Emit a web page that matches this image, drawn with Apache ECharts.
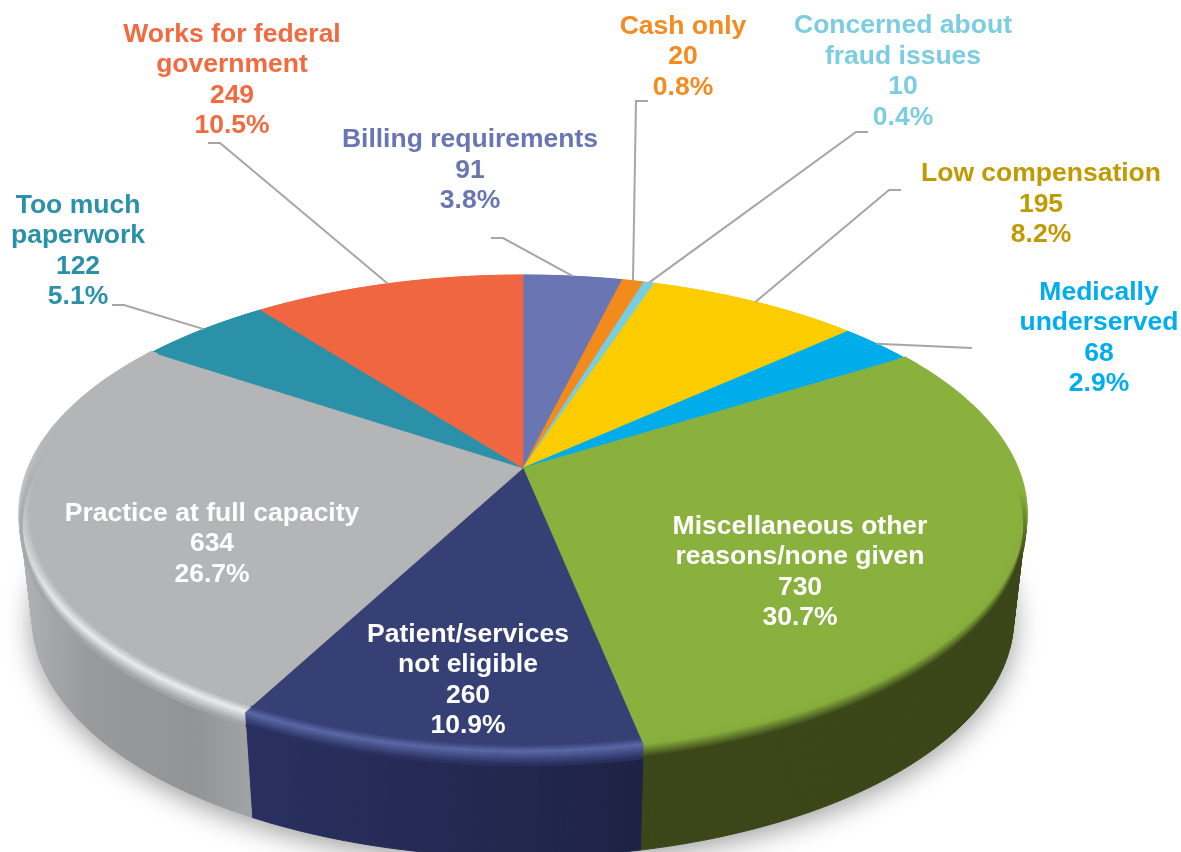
<!DOCTYPE html>
<html>
<head>
<meta charset="utf-8" />
<title>Reasons for not participating</title>
<style>
  html, body { margin: 0; padding: 0; background: #fff; }
  #chart { width: 1181px; height: 852px; }
</style>
</head>
<body>
<div id="chart"></div>
<script src="https://cdn.jsdelivr.net/npm/echarts@6/dist/echarts.min.js"></script>
<script>
// data, clockwise from 12 o'clock
const categories = [
  "Billing requirements",
  "Cash only",
  "Concerned about\nfraud issues",
  "Low compensation",
  "Medically\nunderserved",
  "Miscellaneous other\nreasons/none given",
  "Patient/services\nnot eligible",
  "Practice at full capacity",
  "Too much\npaperwork",
  "Works for federal\ngovernment",
];
const counts = [91, 20, 10, 195, 68, 730, 260, 634, 122, 249];
const percents = ["3.8%", "0.8%", "0.4%", "8.2%", "2.9%", "30.7%", "10.9%", "26.7%", "5.1%", "10.5%"];

// styling, same order as the data
const sliceColors = ["#6a75b3", "#f38b1c", "#78cde0", "#fbcd00", "#00adea", "#8ab13e", "#364075", "#b4b5b7", "#2a91a8", "#f06640"];
const labelColors = ["#6a75b3", "#f58a1e", "#7ccde2", "#c09a00", "#00adef", "#fff", "#fff", "#fff", "#2a91a8", "#f26a3f"];
// centre of the text block
const labelPos = [[470, 170.5], [683, 57], [903, 71.5], [1041, 204.5], [1099, 338], [800, 572], [468, 680], [212, 544], [78, 251], [232, 80]];
// where the leader line starts next to the text, then its elbow
const leaderEnds = [
  [[491, 238], [503, 238]],
  [[648, 101], [636, 101]],
  [[868, 132], [856, 132]],
  [[901, 190], [889, 190]],
  [[972, 348], [972, 348]],
  null, null, null,
  [[112, 305], [124, 305]],
  [[208, 143], [220, 143]],
];
// side wall shading: x range of the gradient and its stops
const wallShade = {
  5: { x: [640, 1025], stops: [[0, "#3c4719"], [1, "#3a4518"]] },
  6: { x: [250, 640], stops: [[0, "#2a3060"], [1, "#1e2345"]] },
  7: { x: [20, 255], stops: [[0, "#b0b2b5"], [0.3, "#97999b"], [0.75, "#929496"], [1, "#a2a4a6"]] },
};
// rim between top and wall: highlight colour, wall colour, y range where it fades in
const rimStyle = {
  5: { hi: "#86ad3c", wall: "#3c4719", fade: [490, 560] },
  6: { hi: "#5866a3", wall: "#2a3060", fade: [0, 1] },
  7: { hi: "#e8e9ea", wall: "#a2a4a6", fade: [430, 600] },
};

// pie top is a circle seen in perspective
const cx = 523, cy = 468, R = 494, pb = 140.5, pc = -0.1908;
const depth = 105, shrink = 0.025;
const total = counts.reduce((a, b) => a + b, 0);

function angleAt(i) {
  let sum = 0;
  for (let k = 0; k < i; k++) sum += counts[k];
  return (sum / total) * Math.PI * 2;
}
function project(theta, r, t) {
  const u = r * Math.sin(theta), v = -r * Math.cos(theta);
  const d = 1 + pc * v;
  const x = R * u / d * (1 - shrink * t);
  return [cx + x, (cy + pb * v) / d + depth * t];
}
function arc(i, r, t) {
  const a0 = angleAt(i), a1 = angleAt(i + 1);
  const n = Math.max(2, Math.ceil((a1 - a0) / 0.02));
  const pts = [];
  for (let k = 0; k <= n; k++) pts.push(project(a0 + ((a1 - a0) * k) / n, r, t));
  return pts;
}
function mix(c1, c2, f) {
  const p = (c) => [1, 3, 5].map((j) => parseInt(c.substr(j, 2), 16));
  const a = p(c1), b = p(c2);
  return "rgb(" + a.map((v, j) => Math.round(v + (b[j] - v) * f)).join(",") + ")";
}

const renderShadow = (params) => ({
  type: "polygon",
  shape: { points: arc(params.dataIndex, 1, 1).concat([project(0, 0, 1)]) },
  style: { fill: "#999", shadowBlur: 28, shadowColor: "rgba(0,0,0,0.4)", shadowOffsetY: 6 },
});

// one quad per arc step, so the outline between top and bottom edge gets filled too
const renderWall = (params) => {
  const i = params.dataIndex;
  const shade = wallShade[i];
  const paint = shade
    ? {
        type: "linear", x: shade.x[0], y: 0, x2: shade.x[1], y2: 0, global: true,
        colorStops: shade.stops.map((s) => ({ offset: s[0], color: s[1] })),
      }
    : sliceColors[i];
  const upper = arc(i, 1, 0), lower = arc(i, 1, 1);
  const children = [];
  for (let k = 0; k < upper.length - 1; k++) {
    children.push({
      type: "polygon",
      shape: { points: [upper[k], upper[k + 1], lower[k + 1], lower[k]] },
      style: { fill: paint, stroke: paint, lineWidth: 1 },
    });
  }
  return { type: "group", children };
};

const renderTop = (params) => {
  const i = params.dataIndex;
  return {
    type: "polygon",
    shape: { points: [[cx, cy]].concat(arc(i, 1, 0)) },
    style: { fill: sliceColors[i], stroke: sliceColors[i], lineWidth: 0.6 },
  };
};

// bevel: a stack of thin strokes, from inside the top edge down onto the wall
const rimSteps = [];
for (const r of [0.982, 0.985, 0.988, 0.991, 0.994, 0.997, 1]) rimSteps.push([r, 0]);
for (const t of [0.02, 0.04, 0.06, 0.08, 0.1, 0.12]) rimSteps.push([1, t]);
const rimPeak = 6;

const renderRim = (params) => {
  const i = params.dataIndex;
  const rim = rimStyle[i];
  if (!rim) return { type: "group", children: [] };
  const top = sliceColors[i];
  const children = rimSteps.map((s, k) => {
    const col = k <= rimPeak
      ? mix(top, rim.hi, k / rimPeak)
      : mix(rim.hi, rim.wall, (k - rimPeak) / (rimSteps.length - 1 - rimPeak));
    return {
      type: "polyline",
      shape: { points: arc(i, s[0], s[1]) },
      style: {
        fill: null,
        lineWidth: 3.2,
        stroke: {
          type: "linear", x: 0, y: rim.fade[0], x2: 0, y2: rim.fade[1], global: true,
          colorStops: [{ offset: 0, color: top }, { offset: 1, color: col }],
        },
      },
    };
  });
  return { type: "group", children };
};

const renderLabel = (params) => {
  const i = params.dataIndex;
  const children = [];
  if (leaderEnds[i]) {
    const mid = (angleAt(i) + angleAt(i + 1)) / 2;
    children.push({
      type: "polyline",
      shape: { points: [leaderEnds[i][0], leaderEnds[i][1], project(mid, 1, 0)] },
      style: { fill: null, stroke: "#a6a6a6", lineWidth: 2 },
    });
  }
  children.push({
    type: "text",
    x: labelPos[i][0],
    y: labelPos[i][1],
    style: {
      text: categories[i] + "\n" + counts[i] + "\n" + percents[i],
      x: 0, y: 0,
      align: "center",
      verticalAlign: "middle",
      fill: labelColors[i],
      font: 'bold 26.5px "Liberation Sans"',
      lineHeight: 30.5,
    },
  });
  return { type: "group", children };
};

const chart = echarts.init(document.getElementById("chart"), null, { renderer: "canvas" });
const layer = (renderItem, z) => ({
  type: "custom",
  coordinateSystem: "none",
  silent: true,
  animation: false,
  z: z,
  data: counts,
  renderItem: renderItem,
});
chart.setOption({
  backgroundColor: "#fff",
  animation: false,
  series: [
    layer(renderShadow, 1),
    layer(renderWall, 2),
    layer(renderTop, 3),
    layer(renderRim, 4),
    layer(renderLabel, 5),
  ],
});
</script>
</body>
</html>
